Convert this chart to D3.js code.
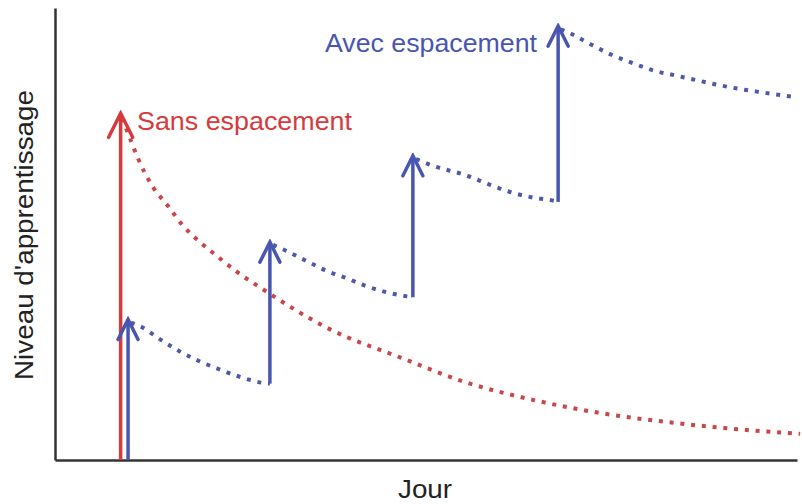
<!DOCTYPE html>
<html>
<head>
<meta charset="utf-8">
<script src="https://cdn.jsdelivr.net/npm/d3@7"></script>
<style>
  html, body { margin: 0; padding: 0; background: #fff; }
  svg { display: block; }
  text { font-family: "Liberation Sans", Arial, Helvetica, sans-serif; }
</style>
</head>
<body>
<svg id="chart" width="802" height="504"></svg>
<script>
// ---------- data (x = jour, y = niveau d'apprentissage) ----------
const xLabel = "Jour";
const yLabel = "Niveau d'apprentissage";
const labelSans = "Sans espacement";
const labelAvec = "Avec espacement";

// Sans espacement : one massed session then forgetting
const sansSessionDay = 2.3;
const sansSessionPeak = 76.7;
const sansDays   = [2.35, 2.63, 2.91, 3.43, 3.96, 4.49, 5.08, 5.68, 6.38, 7.18, 9.64, 12.09, 14.44, 16.75, 19.10, 21.45, 23.76, 26.11];
const sansLevels = [75.6, 71.1, 66.7, 60.4, 56.2, 51.8, 48.2, 45.1, 41.6, 38.2, 28.9, 22.7, 17.1, 13.3, 10.4, 8.4, 6.9, 5.8];

// Avec espacement : four spaced sessions
const avecSessionDays = [2.56, 7.53, 12.54, 17.63];
const avecSessionFrom = [0, 16.9, 36.0, 57.1];
const avecSessionTo   = [31.1, 48.2, 67.3, 96.0];

const avecDecay1Days   = [2.66, 2.98, 3.68, 4.38, 5.08, 5.78, 6.48, 7.25, 7.53];
const avecDecay1Levels = [30.4, 29.6, 26.7, 24.0, 21.8, 20.0, 18.4, 17.1, 16.9];
const avecDecay2Days   = [7.64, 8.06, 8.76, 9.53, 10.23, 10.93, 11.63, 12.33, 12.54];
const avecDecay2Levels = [47.6, 46.4, 44.2, 41.8, 40.2, 38.4, 37.1, 36.2, 36.0];
const avecDecay3Days   = [12.65, 13.20, 14.44, 15.20, 15.94, 16.80, 17.52, 17.63];
const avecDecay3Levels = [66.6, 65.2, 62.9, 61.0, 59.3, 58.0, 57.3, 57.1];
const avecDecay4Days   = [17.72, 18.12, 18.82, 19.52, 20.25, 20.95, 21.73, 22.50, 23.30, 24.07, 24.81, 26.0];
const avecDecay4Levels = [95.3, 94.2, 91.8, 89.6, 87.8, 86.2, 85.1, 84.0, 82.9, 82.0, 81.3, 80.2];

// ---------- drawing ----------
const RED = "#d63a3c";
const BLUE = "#4856b0";
const DOT_RED = "#c8474a";
const DOT_BLUE = "#4f5aa6";
const AXIS = "#333";

const svg = d3.select("#chart");
const x = d3.scaleLinear().domain([0, 26]).range([55, 797]);
const y = d3.scaleLinear().domain([0, 100]).range([460, 8]);

// axes without ticks
svg.append("g").attr("transform", `translate(0,${y(0)})`)
  .call(d3.axisBottom(x).tickValues([]).tickSizeOuter(0))
  .call(g => g.select(".domain").attr("stroke", AXIS).attr("stroke-width", 2.5));
svg.append("g").attr("transform", `translate(${x(0)},0)`)
  .call(d3.axisLeft(y).tickValues([]).tickSizeOuter(0))
  .call(g => g.select(".domain").attr("stroke", AXIS).attr("stroke-width", 2.5));

// axis titles
svg.append("text").text(xLabel)
  .attr("x", 425).attr("y", 498).attr("text-anchor", "middle")
  .attr("font-size", 25).attr("fill", "#222")
  .attr("textLength", 54).attr("lengthAdjust", "spacingAndGlyphs");
svg.append("text").text(yLabel)
  .attr("transform", "translate(33,235) rotate(-90)")
  .attr("text-anchor", "middle").attr("font-size", 25).attr("fill", "#222")
  .attr("textLength", 290).attr("lengthAdjust", "spacingAndGlyphs");

// arrowhead markers (open chevron)
const defs = svg.append("defs");
function marker(id, color, half, back) {
  defs.append("marker").attr("id", id)
    .attr("markerUnits", "userSpaceOnUse")
    .attr("viewBox", `${-back - 3} ${-half - 3} ${back + 6} ${2 * half + 6}`)
    .attr("refX", 0).attr("refY", 0)
    .attr("markerWidth", back + 6).attr("markerHeight", 2 * half + 6)
    .attr("orient", "auto")
    .append("path")
    .attr("d", `M${-back},${-half} L0,0 L${-back},${half}`)
    .attr("fill", "none").attr("stroke", color).attr("stroke-width", 3.5)
    .attr("stroke-linejoin", "miter").attr("stroke-linecap", "round");
}
marker("arrRed", RED, 12, 24);
marker("arrBlue", BLUE, 10, 20);

const line = d3.line().x(d => x(d[0])).y(d => y(d[1])).curve(d3.curveMonotoneX);

function dotted(days, levels, color) {
  svg.append("path")
    .attr("d", line(d3.zip(days, levels)))
    .attr("fill", "none").attr("stroke", color)
    .attr("stroke-width", 4).attr("stroke-dasharray", "4,6.8");
}

// Sans espacement
dotted(sansDays, sansLevels, DOT_RED);
svg.append("line")
  .attr("x1", x(sansSessionDay)).attr("x2", x(sansSessionDay))
  .attr("y1", y(0)).attr("y2", y(sansSessionPeak))
  .attr("stroke", RED).attr("stroke-width", 3.5)
  .attr("marker-end", "url(#arrRed)");

// Avec espacement
dotted(avecDecay1Days, avecDecay1Levels, DOT_BLUE);
dotted(avecDecay2Days, avecDecay2Levels, DOT_BLUE);
dotted(avecDecay3Days, avecDecay3Levels, DOT_BLUE);
dotted(avecDecay4Days, avecDecay4Levels, DOT_BLUE);
avecSessionDays.forEach((d, i) => {
  svg.append("line")
    .attr("x1", x(d)).attr("x2", x(d))
    .attr("y1", y(avecSessionFrom[i])).attr("y2", y(avecSessionTo[i]))
    .attr("stroke", BLUE).attr("stroke-width", 3.5)
    .attr("marker-end", "url(#arrBlue)");
});

// series labels
svg.append("text").text(labelSans)
  .attr("x", 137).attr("y", 130).attr("font-size", 25).attr("fill", RED)
  .attr("textLength", 215).attr("lengthAdjust", "spacingAndGlyphs");
svg.append("text").text(labelAvec)
  .attr("x", 325).attr("y", 52).attr("font-size", 25).attr("fill", BLUE)
  .attr("textLength", 212).attr("lengthAdjust", "spacingAndGlyphs");
</script>
</body>
</html>
